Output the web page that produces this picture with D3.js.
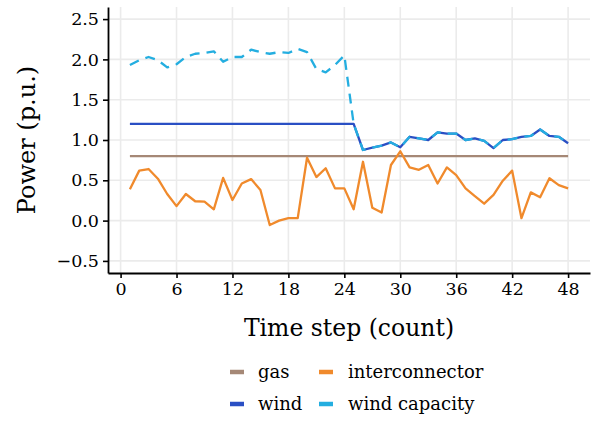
<!DOCTYPE html>
<html>
<head>
<meta charset="utf-8">
<script src="https://cdn.jsdelivr.net/npm/d3@7"></script>
<style>
  html, body { margin: 0; padding: 0; background: #fff; }
  svg { display: block; font-family: "DejaVu Serif", serif; }
</style>
</head>
<body>
<svg id="chart" width="593" height="421"></svg>
<script>
// Time steps 1..48
const timeSteps = d3.range(1, 49);

// Power per series (p.u.)
const gas = timeSteps.map(() => 0.8);

const interconnector = [
  0.39, 0.62, 0.64, 0.52, 0.33, 0.18, 0.33, 0.24, 0.235, 0.14,
  0.53, 0.255, 0.46, 0.515, 0.38, -0.055, 0.0, 0.03, 0.03, 0.78,
  0.54, 0.65, 0.40, 0.40, 0.14, 0.73, 0.16, 0.10, 0.69, 0.86,
  0.66, 0.63, 0.69, 0.46, 0.66, 0.565, 0.40, 0.305, 0.21, 0.32,
  0.495, 0.62, 0.03, 0.35, 0.29, 0.525, 0.44, 0.40
];

const wind = [
  1.2, 1.2, 1.2, 1.2, 1.2, 1.2, 1.2, 1.2, 1.2, 1.2,
  1.2, 1.2, 1.2, 1.2, 1.2, 1.2, 1.2, 1.2, 1.2, 1.2,
  1.2, 1.2, 1.2, 1.2, 1.2, 0.876, 0.905, 0.93, 0.97, 0.91,
  1.04, 1.02, 1.0, 1.095, 1.08, 1.08, 1.0, 1.02, 0.99, 0.90,
  1.0, 1.01, 1.04, 1.05, 1.13, 1.05, 1.04, 0.96
];

const windCapacity = [
  1.93, 1.99, 2.03, 1.99, 1.90, 1.94, 2.03, 2.07, 2.08, 2.10,
  1.97, 2.03, 2.03, 2.12, 2.09, 2.07, 2.09, 2.08, 2.13, 2.09,
  1.88, 1.84, 1.93, 2.05, 1.2, 0.876, 0.905, 0.93, 0.97, 0.91,
  1.04, 1.02, 1.0, 1.095, 1.08, 1.08, 1.0, 1.02, 0.99, 0.90,
  1.0, 1.01, 1.04, 1.05, 1.13, 1.05, 1.04, 0.96
];

const xTicks = [0, 6, 12, 18, 24, 30, 36, 42, 48];
const yTicks = [-0.5, 0.0, 0.5, 1.0, 1.5, 2.0, 2.5];

const seriesNames = ["gas", "interconnector", "wind", "wind capacity"];
const seriesColors = ["#a58876", "#f08a2c", "#2a4fc4", "#24aee0"];
const seriesData = [gas, interconnector, wind, windCapacity];

const svg = d3.select("#chart");
const plotLeft = 108, plotRight = 590, plotTop = 7, plotBottom = 273;

const x = d3.scaleLinear().domain([-1.35, 50.35]).range([plotLeft, plotRight]);
const y = d3.scaleLinear().domain([-0.65, 2.65]).range([plotBottom, plotTop]);

// grid
const grid = svg.append("g");
grid.selectAll("line.h").data(yTicks).join("line")
  .attr("x1", plotLeft).attr("x2", plotRight)
  .attr("y1", d => y(d)).attr("y2", d => y(d))
  .attr("stroke", "#ebebeb").attr("stroke-width", 1.6);
grid.selectAll("line.v").data(xTicks).join("line")
  .attr("y1", plotTop).attr("y2", plotBottom)
  .attr("x1", d => x(d)).attr("x2", d => x(d))
  .attr("stroke", "#ebebeb").attr("stroke-width", 1.6);

// series lines
const line = d3.line().x((d, i) => x(timeSteps[i])).y(d => y(d));
seriesData.forEach((vals, k) => {
  svg.append("path")
    .datum(vals)
    .attr("d", line)
    .attr("fill", "none")
    .attr("stroke", seriesColors[k])
    .attr("stroke-width", 2.3)
    .attr("stroke-linejoin", "round")
    .attr("stroke-dasharray", seriesNames[k] === "wind capacity" ? "10,7" : null);
});

// axes
const xAxis = svg.append("g")
  .attr("transform", `translate(0,${plotBottom})`)
  .call(d3.axisBottom(x).tickValues(xTicks).tickFormat(d3.format("d")).tickSize(5).tickSizeOuter(0).tickPadding(5));
const yAxis = svg.append("g")
  .attr("transform", `translate(${plotLeft},0)`)
  .call(d3.axisLeft(y).tickValues(yTicks).tickFormat(d3.format(".1f")).tickSize(5).tickSizeOuter(0).tickPadding(4));

[xAxis, yAxis].forEach(g => {
  g.select(".domain").attr("stroke", "#000").attr("stroke-width", 1.8);
  g.selectAll(".tick line").attr("stroke", "#000").attr("stroke-width", 1.6);
  g.selectAll(".tick text").attr("fill", "#000")
    .style("font-family", "DejaVu Serif, serif").style("font-size", "17.5px");
});

// axis titles
svg.append("text")
  .attr("x", (plotLeft + plotRight) / 2).attr("y", 336)
  .attr("text-anchor", "middle")
  .style("font-size", "23.5px")
  .text("Time step (count)");

svg.append("text")
  .attr("transform", `translate(35,${(plotTop + plotBottom) / 2}) rotate(-90)`)
  .attr("text-anchor", "middle")
  .style("font-size", "24px")
  .text("Power (p.u.)");

// legend
const legendPos = [
  { kx: 230, tx: 258, y: 372 },
  { kx: 319, tx: 348, y: 372 },
  { kx: 230, tx: 258, y: 404 },
  { kx: 319, tx: 348, y: 404 }
];
const legend = svg.append("g");
seriesNames.forEach((name, k) => {
  const p = legendPos[k];
  legend.append("line")
    .attr("x1", p.kx).attr("x2", p.kx + 14)
    .attr("y1", p.y).attr("y2", p.y)
    .attr("stroke", seriesColors[k]).attr("stroke-width", 4.5);
  legend.append("text")
    .attr("x", p.tx).attr("y", p.y)
    .attr("dy", "0.35em")
    .style("font-size", "18px")
    .text(name);
});
</script>
</body>
</html>
